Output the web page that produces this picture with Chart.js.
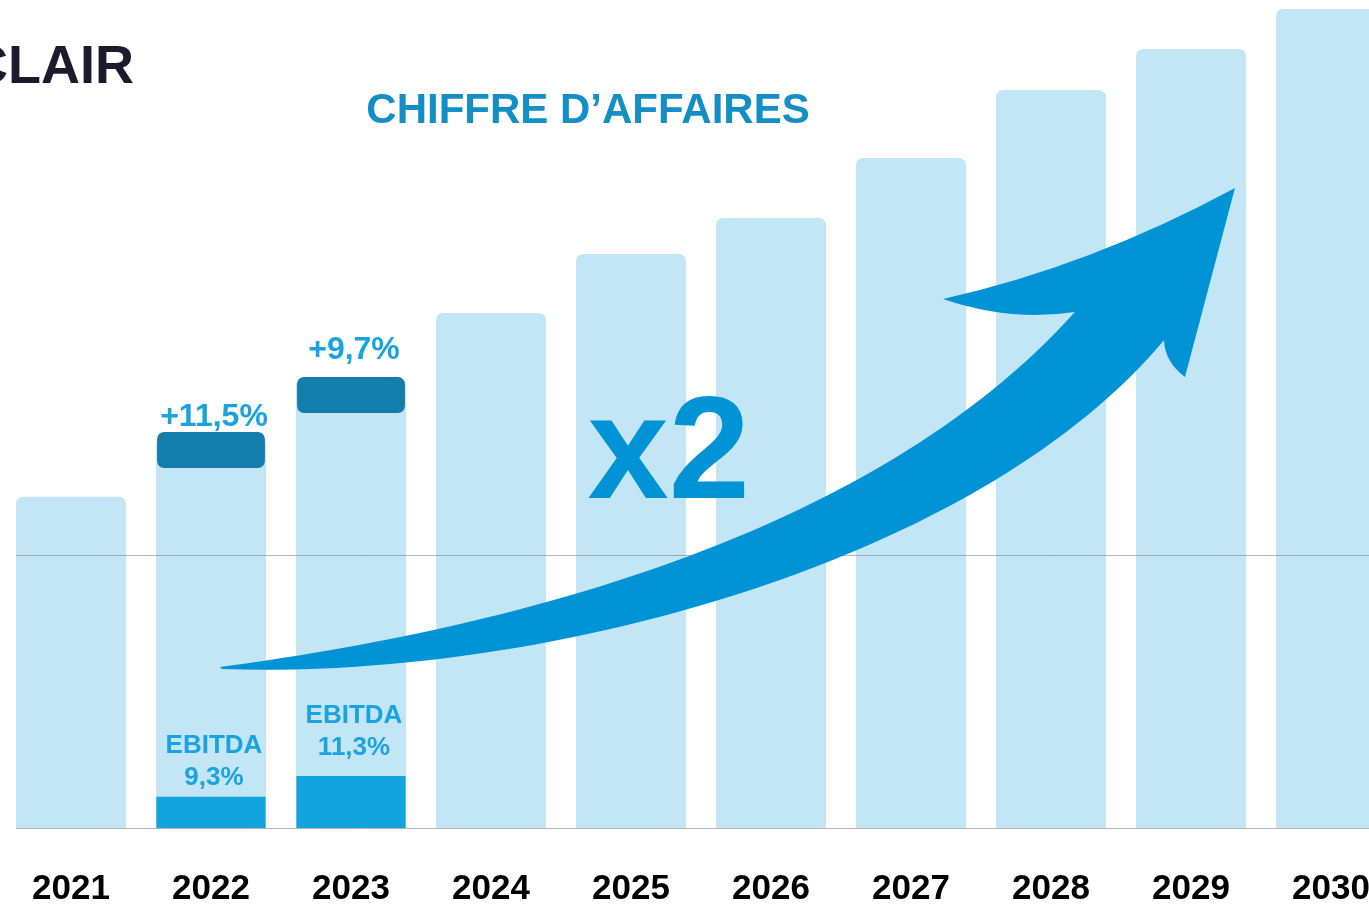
<!DOCTYPE html>
<html lang="fr">
<head>
<meta charset="utf-8">
<title>Chiffre d'affaires</title>
<script src="https://cdn.jsdelivr.net/npm/chart.js@4.4.1/dist/chart.umd.min.js"></script>
<style>
  html, body { margin: 0; padding: 0; background: #fff; overflow: hidden; }
  #wrap { width: 1369px; height: 905px; overflow: hidden; position: relative; }
  canvas { display: block; }
</style>
</head>
<body>
<div id="wrap"><canvas id="caChart" width="1410" height="950"></canvas></div>
<script>
// Données (indice CA, base 100 en 2021)
const annees = ['2021', '2022', '2023', '2024', '2025', '2026', '2027', '2028', '2029', '2030'];
const chiffreAffaires = [100, 117.8, 135.9, 155.5, 173.3, 184.2, 202.3, 222.8, 235.2, 247.3];
const ebitda = [null, 9.4, 15.7, null, null, null, null, null, null, null];
const blocsCroissance = [null, [108.7, 119.6], [125.3, 136.2], null, null, null, null, null, null, null];
const textesCroissance = [null, '+11,5%', '+9,7%', null, null, null, null, null, null, null];
const textesEbitda = [null, '9,3%', '11,3%', null, null, null, null, null, null, null];
const ligneRepere = 82.5;

const police = '"Liberation Sans", Arial, sans-serif';

// Flèche "x2" (en unités du graphique : index d'année, indice CA)
const fleche = {
    queue: [1.064, 48.6],
    hautC1: [3.064, 59.8], hautC2: [5.707, 87.0], hautFin: [7.171, 155.8],
    aileCtrl: [6.707, 152.8], aile: [6.229, 159.7],
    pointeCtrl: [7.286, 169.7], pointe: [8.314, 193.2],
    aileDroite: [7.957, 136.2], creuxCtrl: [7.814, 140.7], creux: [7.807, 147.3],
    basC1: [6.493, 80.9], basC2: [3.421, 44.7], queueFin: [1.079, 48.0]
};

const decor = {
    id: 'decor',
    afterDatasetsDraw(chart) {
        const { ctx, chartArea, scales: { x, y } } = chart;
        const P = (p) => [x.getPixelForValue(p[0]), y.getPixelForValue(p[1])];

        // lignes grises
        const premiere = chart.getDatasetMeta(0).data[0];
        const gauche = premiere.x - premiere.width / 2;
        ctx.save();
        ctx.strokeStyle = 'rgba(120,120,120,0.55)';
        ctx.lineWidth = 1;
        [0, ligneRepere].forEach(v => {
            const py = Math.round(y.getPixelForValue(v)) + 0.5;
            ctx.beginPath();
            ctx.moveTo(gauche, py);
            ctx.lineTo(chartArea.right, py);
            ctx.stroke();
        });

        // flèche
        const f = fleche;
        ctx.fillStyle = '#0093d6';
        ctx.beginPath();
        ctx.moveTo(...P(f.queue));
        ctx.bezierCurveTo(...P(f.hautC1), ...P(f.hautC2), ...P(f.hautFin));
        ctx.quadraticCurveTo(...P(f.aileCtrl), ...P(f.aile));
        ctx.quadraticCurveTo(...P(f.pointeCtrl), ...P(f.pointe));
        ctx.lineTo(...P(f.aileDroite));
        ctx.quadraticCurveTo(...P(f.creuxCtrl), ...P(f.creux));
        ctx.bezierCurveTo(...P(f.basC1), ...P(f.basC2), ...P(f.queueFin));
        ctx.closePath();
        ctx.fill();

        // textes au-dessus des blocs
        ctx.textAlign = 'center';
        ctx.textBaseline = 'middle';
        ctx.font = 'bold 32px ' + police;
        ctx.fillStyle = '#1aa3df';
        const decalages = [0, 15, 27];
        textesCroissance.forEach((t, i) => {
            if (!t) return;
            const bloc = blocsCroissance[i];
            ctx.fillText(t, x.getPixelForValue(i) + 3, y.getPixelForValue(bloc[1]) - decalages[i]);
        });

        // textes EBITDA
        ctx.font = 'bold 26px ' + police;
        const ecarts = [0, 19, 28];
        textesEbitda.forEach((t, i) => {
            if (!t) return;
            const haut = y.getPixelForValue(ebitda[i]) - ecarts[i];
            const cx = x.getPixelForValue(i) + 3;
            ctx.fillText(t, cx, haut);
            ctx.fillText('EBITDA', cx, haut - 32);
        });

        // x2
        ctx.font = 'bold 146px ' + police;
        ctx.fillStyle = '#0093d6';
        ctx.textBaseline = 'alphabetic';
        ctx.fillText('x2', x.getPixelForValue(4.27), y.getPixelForValue(99.5));

        // titre
        ctx.font = 'bold 42px ' + police;
        ctx.fillStyle = '#138fc6';
        ctx.fillText('CHIFFRE D\u2019AFFAIRES', 588, 123);

        ctx.textAlign = 'right';
        ctx.font = 'bold 54px ' + police;
        ctx.fillStyle = '#1d1a2d';
        ctx.fillText('CLAIR', 134, 83);
        ctx.restore();
    }
};

new Chart(document.getElementById('caChart').getContext('2d'), {
    type: 'bar',
    data: {
        labels: annees,
        datasets: [
            {
                label: "Chiffre d'affaires",
                data: chiffreAffaires,
                backgroundColor: '#c2e6f5',
                borderRadius: 7,
                grouped: false,
                categoryPercentage: 1,
                barPercentage: 0.786,
                order: 3
            },
            {
                label: 'EBITDA',
                data: ebitda,
                backgroundColor: '#13a3dd',
                borderRadius: 0,
                grouped: false,
                categoryPercentage: 1,
                barPercentage: 0.78,
                order: 2
            },
            {
                label: 'Croissance',
                data: blocsCroissance,
                backgroundColor: '#137dab',
                borderRadius: 7,
                borderSkipped: false,
                grouped: false,
                categoryPercentage: 1,
                barPercentage: 0.77,
                order: 1
            }
        ]
    },
    options: {
        responsive: false,
        animation: false,
        layout: { padding: { left: 1, right: 9, top: 0, bottom: 0 } },
        plugins: {
            legend: { display: false },
            tooltip: { enabled: false }
        },
        scales: {
            x: {
                grid: { display: false, drawTicks: false },
                border: { display: false },
                ticks: {
                    color: '#000',
                    padding: 10,
                    font: { family: police, size: 35, weight: 'bold', lineHeight: 102 / 35 }
                }
            },
            y: {
                display: false,
                min: 0,
                max: 250
            }
        }
    },
    plugins: [decor]
});
</script>
</body>
</html>
